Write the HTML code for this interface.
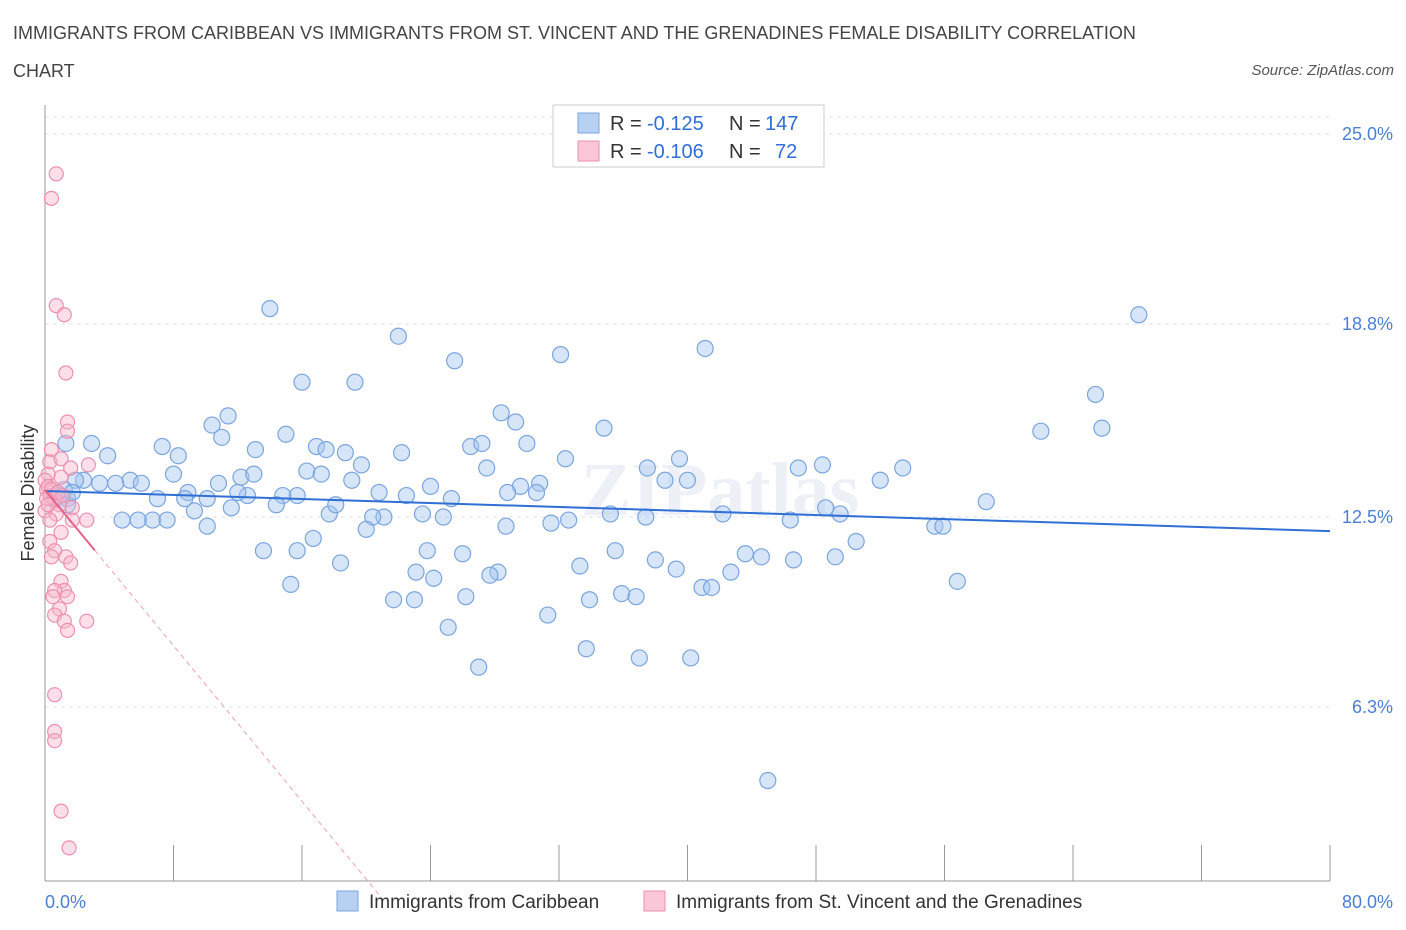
<!DOCTYPE html>
<html><head><meta charset="utf-8">
<style>
body{margin:0;background:#fff;font-family:"Liberation Sans",sans-serif;}
#wrap{position:relative;width:1406px;height:930px;overflow:hidden;}
.title{position:absolute;left:13px;top:14px;font-size:18px;color:#444;line-height:38px;width:1175px;}
.src{position:absolute;right:12px;top:62px;font-size:15px;color:#555;font-style:italic;}
</style></head><body>
<div id="wrap">
<div class="title">IMMIGRANTS FROM CARIBBEAN VS IMMIGRANTS FROM ST. VINCENT AND THE GRENADINES FEMALE DISABILITY CORRELATION CHART</div>
<div class="src">Source: ZipAtlas.com</div>
<svg id="svg" width="1406" height="930" style="position:absolute;left:0;top:0"></svg>
</div>
<script>
const yTicks=[25.0,18.8,12.5,6.3];
const yTickLabels=["25.0%","18.8%","12.5%","6.3%"];
const xTickVals=[0,8,16,24,32,40,48,56,64,72,80];
const blueX=[14.0,22.0,25.5,32.1,41.1,68.1,65.4,62.0,65.8,16.0,19.3,11.4,10.4,11.0,7.3,8.3,2.9,3.9,15.0,13.1,16.9,17.5,18.7,19.7,22.2,28.4,29.3,26.5,27.2,30.0,34.8,32.4,27.5,29.6,30.8,16.3,17.2,12.2,13.0,10.8,8.0,8.9,5.3,6.0,4.4,3.4,2.4,1.9,1.3,19.1,20.8,24.0,22.5,25.3,28.8,30.6,37.5,38.6,39.5,40.0,46.9,48.4,52.0,53.4,58.6,48.6,49.5,55.4,55.9,42.2,46.4,35.2,37.4,32.6,31.5,28.7,24.8,23.5,21.1,20.4,20.0,17.7,18.1,15.7,14.8,14.4,12.6,12.0,11.6,10.1,9.3,8.7,7.0,6.7,7.6,5.8,4.8,10.1,13.6,15.7,16.7,18.4,23.8,26.0,35.5,38.0,43.6,44.6,46.6,49.2,50.5,23.1,24.2,28.2,27.7,33.3,39.3,42.7,40.9,41.5,15.3,35.9,36.8,21.7,23.0,26.2,33.9,31.3,25.1,33.7,37.0,40.2,27.0,45.0,56.8,1.4,0.9,1.4,0.6,1.2,1.7];
const blueY=[19.3,18.4,17.6,17.8,18.0,19.1,16.5,15.3,15.4,16.9,16.9,15.8,15.5,15.1,14.8,14.5,14.9,14.5,15.2,14.7,14.8,14.7,14.6,14.2,14.6,15.9,15.6,14.8,14.9,14.9,15.4,14.4,14.1,13.5,13.6,14.0,13.9,13.8,13.9,13.6,13.9,13.3,13.7,13.6,13.6,13.6,13.7,13.7,14.9,13.7,13.3,13.5,13.2,13.1,13.3,13.3,14.1,13.7,14.4,13.7,14.1,14.2,13.7,14.1,13.0,12.8,12.6,12.2,12.2,12.6,12.4,12.6,12.5,12.4,12.3,12.2,12.5,12.6,12.5,12.5,12.1,12.6,12.9,13.2,13.2,12.9,13.2,13.3,12.8,13.1,12.7,13.1,13.1,12.4,12.4,12.4,12.4,12.2,11.4,11.4,11.8,11.0,11.4,11.3,11.4,11.1,11.3,11.2,11.1,11.2,11.7,10.7,10.5,10.7,10.6,10.9,10.8,10.7,10.2,10.2,10.3,10.0,9.9,9.8,9.8,9.9,9.8,9.3,8.9,8.2,7.9,7.9,7.6,3.9,10.4,13.1,13.2,12.9,13.1,13.4,13.3];
const pinkX=[0.7,0.4,0.7,1.2,1.3,1.4,1.4,0.4,0.3,1.0,2.7,0.2,1.0,1.6,0.1,0.3,0.6,0.9,0.0,0.7,1.7,2.6,0.3,1.7,1.0,0.3,0.6,1.3,0.4,1.6,1.0,1.2,0.6,1.4,0.5,0.9,0.6,1.2,2.6,1.4,0.6,0.6,0.6,1.0,1.5,0.0,0.2,0.4,0.8,1.1,0.1,0.2];
const pinkY=[23.7,22.9,19.4,19.1,17.2,15.6,15.3,14.7,14.3,14.4,14.2,13.9,13.8,14.1,13.4,13.2,13.1,12.9,12.7,12.6,12.8,12.4,12.4,12.4,12.0,11.7,11.4,11.2,11.2,11.0,10.4,10.1,10.1,9.9,9.9,9.5,9.3,9.1,9.1,8.8,6.7,5.5,5.2,2.9,1.7,13.7,13.5,13.4,13.3,13.2,13.1,12.9];
const blueTrend=[13.35,12.04];
const pinkTrend=[13.38,-0.635];
const X0=45,X1=1330,Y0=900,PPY=30.64;
const sx=v=>X0+(X1-X0)*v/80;
const sy=v=>Y0-v*PPY;
const svg=document.getElementById('svg');
const NS='http://www.w3.org/2000/svg';
function mk(t,a){const e=document.createElementNS(NS,t);for(const k in a)e.setAttribute(k,a[k]);svg.appendChild(e);return e;}
let wm=mk('text',{x:720,y:515,'text-anchor':'middle','font-size':76,fill:'#edf1f7','font-family':'Liberation Serif, serif','font-weight':'bold'});
wm.textContent='ZIPatlas';


yTicks.forEach((t,i)=>{
 let g=mk('line',{x1:X0,x2:1330,y1:sy(t),y2:sy(t),stroke:'#dde3ea','stroke-dasharray':'4,4'});
 
 
 let l=mk('text',{x:1393,y:sy(t)+6,'text-anchor':'end','font-size':18,fill:'#4a7fd4'});
 l.textContent=yTickLabels[i];
 
 
});
let gt=mk('line',{x1:X0,x2:1330,y1:117,y2:117,stroke:'#dde3ea','stroke-dasharray':'4,4'});


let ya=mk('line',{x1:X0,x2:X0,y1:105,y2:881,stroke:'#999'});


let xa=mk('line',{x1:X0,x2:1330,y1:881,y2:881,stroke:'#999'});


xTickVals.forEach(v=>{
 let t=mk('line',{x1:sx(v),x2:sx(v),y1:845,y2:881,stroke:'#999'});
 
 
});
let xl0=mk('text',{x:45,y:908,'font-size':18,fill:'#4a7fd4'});xl0.textContent='0.0%';


let xl1=mk('text',{x:1393,y:908,'text-anchor':'end','font-size':18,fill:'#4a7fd4'});xl1.textContent='80.0%';


let yt=mk('text',{x:34,y:493,'text-anchor':'middle','font-size':18,fill:'#333',transform:'rotate(-90 34 493)'});yt.textContent='Female Disability';


blueX.forEach((v,i)=>{
 let c=mk('circle',{cx:sx(v),cy:sy(blueY[i]),r:8,fill:'rgba(165,198,240,0.45)',stroke:'#7aa5e0','stroke-width':1.2});
 
 
});
pinkX.forEach((v,i)=>{
 let c=mk('circle',{cx:sx(v),cy:sy(pinkY[i]),r:7,fill:'rgba(248,185,205,0.45)',stroke:'#ee8fae','stroke-width':1.2});
 
 
});
let bt=mk('line',{x1:sx(0),y1:sy(blueTrend[0]),x2:sx(80),y2:sy(blueTrend[1]),stroke:'#2f6fd6','stroke-width':2});


const pEnd=-pinkTrend[0]/pinkTrend[1];
let pd=mk('line',{x1:sx(3.1),y1:sy(pinkTrend[0]+pinkTrend[1]*3.1),x2:sx(pEnd),y2:sy(0),stroke:'#f0a0b8','stroke-width':1,'stroke-dasharray':'5,4'});


let ps=mk('line',{x1:sx(0),y1:sy(pinkTrend[0]),x2:sx(3.1),y2:sy(pinkTrend[0]+pinkTrend[1]*3.1),stroke:'#e8608a','stroke-width':2});


let lb=mk('rect',{x:553,y:105,width:271,height:62,fill:'#fff',stroke:'#ccc'});


[[123,'rgba(165,198,240,0.8)','#7aa5e0','-0.125','147',765],[151,'rgba(248,185,205,0.8)','#ee8fae','-0.106','72',775]].forEach(r=>{
 let s=mk('rect',{x:578,y:r[0]-10,width:21,height:20,fill:r[1],stroke:r[2]});
 
 
 let a=mk('text',{x:610,y:r[0]+7,'font-size':20,fill:'#333'});a.textContent='R =';
 
 
 let b=mk('text',{x:647,y:r[0]+7,'font-size':20,fill:'#2f6fd6'});b.textContent=r[3];
 
 
 let c=mk('text',{x:729,y:r[0]+7,'font-size':20,fill:'#333'});c.textContent='N =';
 
 
 let d=mk('text',{x:r[5],y:r[0]+7,'font-size':20,fill:'#2f6fd6'});d.textContent=r[4];
 
 
});
[[337,'rgba(165,198,240,0.8)','#7aa5e0','Immigrants from Caribbean'],[644,'rgba(248,185,205,0.8)','#ee8fae','Immigrants from St. Vincent and the Grenadines']].forEach(r=>{
 let s=mk('rect',{x:r[0],y:891,width:21,height:20,fill:r[1],stroke:r[2]});
 
 
 let t=mk('text',{x:r[0]+32,y:908,'font-size':19,fill:'#333'});
 t.textContent=r[3];
 
 
});
</script>
</body></html>
